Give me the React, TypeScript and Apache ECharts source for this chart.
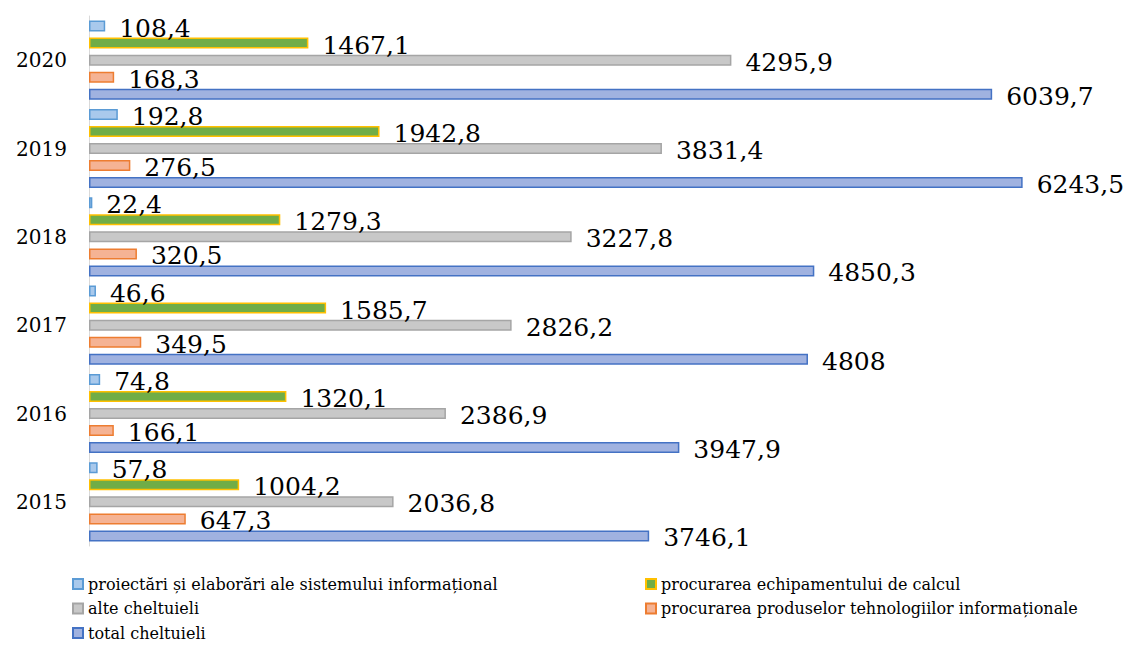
import React, { useEffect, useRef } from "react";
import * as echarts from "echarts";

const years = ["2015", "2016", "2017", "2018", "2019", "2020"];
const proiectari = [57.8, 74.8, 46.6, 22.4, 192.8, 108.4];
const echipament = [1004.2, 1320.1, 1585.7, 1279.3, 1942.8, 1467.1];
const alte = [2036.8, 2386.9, 2826.2, 3227.8, 3831.4, 4295.9];
const produse = [647.3, 166.1, 349.5, 320.5, 276.5, 168.3];
const total = [3746.1, 3947.9, 4808, 4850.3, 6243.5, 6039.7];

const names = [
  "proiectări și elaborări ale sistemului informațional",
  "procurarea echipamentului de calcul",
  "alte cheltuieli",
  "procurarea produselor tehnologiilor informaționale",
  "total cheltuieli",
];

const FONT = "DejaVu Serif";

export default function App() {
  const ref = useRef<HTMLDivElement>(null);
  useEffect(() => {
    if (!ref.current) return;
    const chart = echarts.init(ref.current, null, { renderer: "svg" });
    const styles = [
      { fill: "#a9c9ec", border: "#5b9bd5" },
      { fill: "#70ad47", border: "#ffc000" },
      { fill: "#c8c8c8", border: "#a5a5a5" },
      { fill: "#f5b394", border: "#ed7d31" },
      { fill: "#a0b2e0", border: "#4472c4" },
    ];
    const datas = [proiectari, echipament, alte, produse, total];
    const series = names.map((n, i) => ({
      name: n,
      type: "bar",
      data: datas[i],
      barWidth: 11,
      barGap: "55%",
      itemStyle: {
        color: styles[i].fill,
        borderColor: styles[i].border,
        borderWidth: 1.5,
      },
      label: {
        show: true,
        position: "right",
        distance: 14,
        offset: [0, 2],
        fontFamily: FONT,
        fontSize: 25,
        color: "#000",
        formatter: (p: any) => String(p.value).replace(".", ","),
      },
    }));
    const legendText = { fontFamily: FONT, fontSize: 16, color: "#000" };
    chart.setOption({
      animation: false,
      backgroundColor: "#fff",
      textStyle: { fontFamily: FONT },
      grid: { left: 89, top: 16, height: 530, width: 972 },
      xAxis: {
        type: "value",
        min: 0,
        max: 6500,
        show: false,
      },
      yAxis: {
        type: "category",
        data: years,
        axisLine: { show: true, lineStyle: { color: "#d9d9d9", width: 1 } },
        axisTick: { show: false },
        axisLabel: { fontFamily: FONT, fontSize: 20, color: "#000", margin: 22 },
      },
      legend: [
        {
          orient: "vertical",
          left: 67,
          top: 571,
          itemWidth: 10,
          itemHeight: 10,
          itemGap: 8.5,
          icon: "rect",
          textStyle: legendText,
          data: [names[0], names[2], names[4]],
        },
        {
          orient: "vertical",
          left: 640,
          top: 571,
          itemWidth: 10,
          itemHeight: 10,
          itemGap: 8.5,
          icon: "rect",
          textStyle: legendText,
          data: [names[1], names[3]],
        },
      ],
      series,
    });
    return () => chart.dispose();
  }, []);
  return (
    <div
      ref={ref}
      style={{ position: "absolute", left: 0, top: 0, width: 1129, height: 648 }}
    />
  );
}
